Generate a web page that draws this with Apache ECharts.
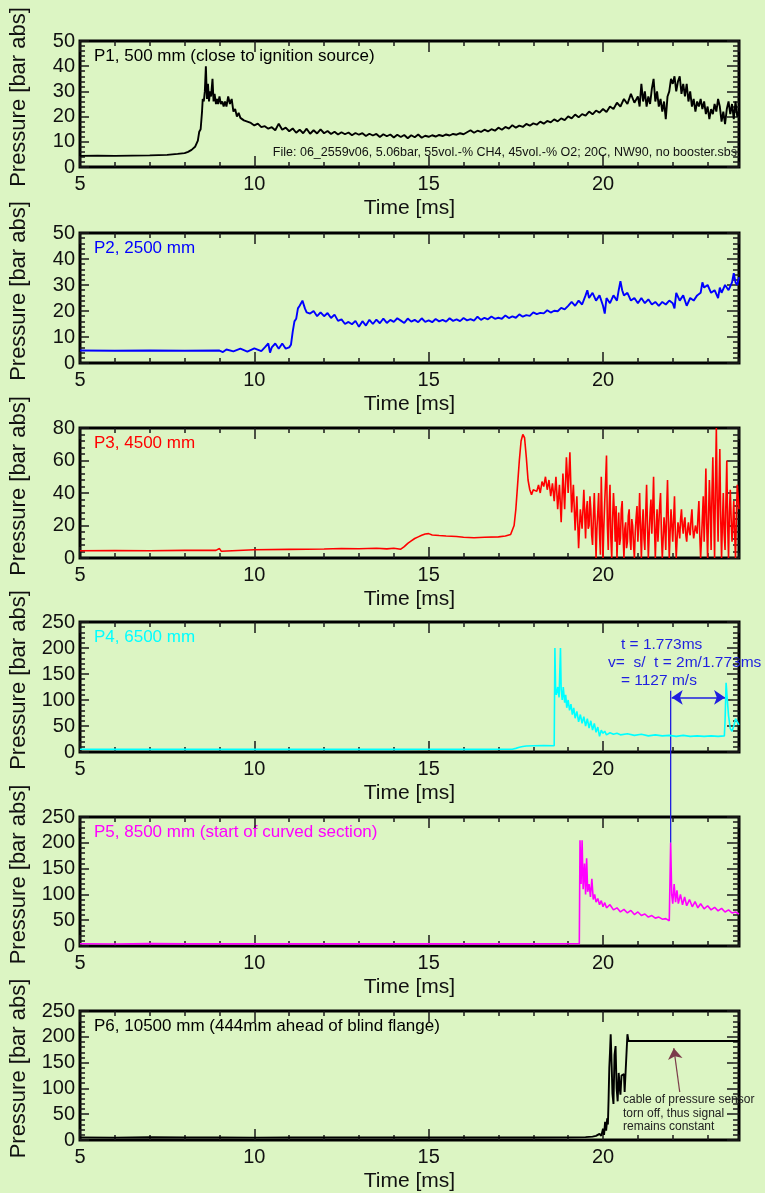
<!DOCTYPE html>
<html>
<head>
<meta charset="utf-8">
<script src="https://cdn.jsdelivr.net/npm/echarts@6/dist/echarts.min.js"></script>
<style>
html, body { margin: 0; padding: 0; background: #dcf5c3; }
#main { width: 765px; height: 1193px; }
</style>
</head>
<body>
<div id="main"></div>
<script>
// axis ranges and ticks
var timeMin = 5, timeMax = 23.9, timeStep = 5;
var yMax = [50, 50, 80, 250, 250, 250];
var yStep = [10, 10, 20, 50, 50, 50];

var panelNames = [
    'P1, 500 mm (close to ignition source)',
    'P2, 2500 mm',
    'P3, 4500 mm',
    'P4, 6500 mm',
    'P5, 8500 mm (start of curved section)',
    'P6, 10500 mm (444mm ahead of blind flange)'
];
var panelColors = ['#000000', '#0000ff', '#ff0000', '#00ffff', '#ff00ff', '#000000'];
var lineWidths = [1.9, 1.9, 1.6, 1.6, 1.6, 1.9];

// pressure traces [time ms, bar abs]
var p1 = [[5,4.4],[5.5,4.5],[6,4.4],[6.5,4.5],[7,4.6],[7.5,4.8],[7.8,5.2],[8,5.5],[8.1,6],[8.2,6.8],[8.3,8],[8.38,10.5],[8.42,14],[8.46,15],[8.5,22],[8.52,27],[8.55,26],[8.58,30],[8.61,40],[8.64,27],[8.67,33],[8.7,26],[8.73,30],[8.76,28],[8.8,35],[8.83,26],[8.86,29],[8.9,25],[8.93,27],[8.96,25],[9,28],[9.04,25],[9.08,26],[9.12,24],[9.16,26],[9.2,24],[9.25,28],[9.3,25],[9.35,27],[9.4,22],[9.45,23],[9.5,20],[9.55,21.5],[9.6,19.5],[9.65,20],[9.7,18.5],[9.8,18],[9.9,17.5],
    [10,16.5],[10.1,17.2],[10.2,15.8],[10.3,16.2],[10.4,15.2],[10.5,15.8],[10.6,14.6],[10.7,17.2],[10.8,14.8],[10.9,15.6],[11,14.2],[11.1,15.3],[11.2,13.6],[11.3,14.8],[11.4,13.4],[11.5,15.2],[11.6,13.2],[11.7,14.6],[11.8,13.3],[11.9,14.9],[12,13.4],[12.1,14.3],[12.2,13.1],[12.3,14],[12.4,12.9],[12.5,13.8],[12.6,13],[12.7,13.7],[12.8,12.6],[12.9,13.5],[13,12.8],[13.1,13.4],[13.2,12.3],[13.3,13.2],[13.4,12.5],[13.5,13.1],[13.6,11.9],[13.7,13],[13.8,12.2],[13.9,12.9],[14,11.7],[14.1,12.8],[14.2,11.9],[14.3,12.7],[14.4,11.4],[14.5,12.6],[14.6,11.8],[14.7,12.9],[14.8,11.6],[14.9,12.4],[15,12],[15.1,12.6],[15.2,12.1],[15.3,12.7],[15.4,12.3],[15.5,12.9],[15.6,12.5],[15.7,13.1],[15.8,12.8],[15.9,13.4],[16,13],[16.1,13.8],[16.2,14.6],[16.3,13.6],[16.4,14.4],[16.5,13.9],[16.6,14.8],[16.7,14.1],[16.8,15],[16.9,14.4],[17,15.6],[17.1,14.8],[17.2,15.9],[17.3,15.2],[17.4,16.6],[17.5,15.6],[17.6,16.4],[17.7,15.9],[17.8,17.1],[17.9,16.4],[18,17.3],[18.1,16.8],[18.2,18],[18.3,17.2],[18.4,18.3],[18.5,17.7],[18.6,18.9],[18.7,18.1],[18.8,19.3],[18.9,18.6],[19,20.1],[19.1,19.3],[19.2,20.8],[19.3,19.7],[19.4,21],[19.5,20.4],[19.6,22],[19.7,20.9],[19.8,22.4],[19.9,21.6],[20,23],
    [20.1,21.8],[20.2,24],[20.3,23],[20.4,25.5],[20.5,24],[20.6,27],[20.7,25],[20.8,29],[20.9,25.5],[21,28],[21.05,24],[21.1,33],[21.15,26],[21.2,30],[21.25,24],[21.3,28],[21.35,25],[21.4,31],[21.45,35],[21.5,26],[21.55,30],[21.6,24],[21.65,27],[21.7,22],[21.75,26],[21.8,19],[21.85,28],[21.9,30],[21.95,35],[22,33],[22.05,36],[22.1,30],[22.15,34],[22.2,36],[22.25,29],[22.3,33],[22.35,28],[22.4,33],[22.45,26],[22.5,30],[22.55,24],[22.6,27],[22.65,22],[22.7,26],[22.75,24],[22.8,27],[22.85,23],[22.9,26],[22.95,21],[23,24],[23.05,19],[23.1,23],[23.15,21],[23.2,25],[23.25,22],[23.3,27],[23.35,24],[23.4,18],[23.45,22],[23.5,17],[23.55,23],[23.6,26],[23.65,21],[23.7,25],[23.75,19],[23.8,26],[23.85,20],[23.9,22]];

var p2 = [[5,4.8],[6,4.7],[7,4.8],[8,4.7],[9,4.8],[9.1,4.2],[9.2,5.2],[9.4,4.5],[9.6,5.5],[9.8,4.4],[10,5.6],[10.2,4.6],[10.3,6],[10.4,7.5],[10.45,4],[10.5,6],[10.6,7.5],[10.7,5.5],[10.8,7.5],[10.9,5.5],[11,6],[11.05,7],[11.1,12],[11.15,16],[11.2,17],[11.25,21],[11.3,22],[11.38,24],[11.45,21],[11.5,19.5],[11.6,19],[11.7,20],[11.8,18],[11.9,19.5],
    [12,18],[12.1,19.2],[12.2,17.3],[12.3,18.6],[12.4,16.2],[12.5,16.8],[12.6,15],[12.7,15.8],[12.8,14.9],[12.9,16.2],[13,13.9],[13.1,16.1],[13.2,14.4],[13.3,16.6],[13.4,15],[13.5,16.7],[13.6,15.3],[13.7,17.1],[13.8,15.4],[13.9,16.6],[14,15.8],[14.1,17.2],[14.2,16.3],[14.3,15.4],[14.4,17.1],[14.5,15.9],[14.6,16.6],[14.7,15.7],[14.8,17.2],[14.9,15.8],[15,16.4],[15.1,15.7],[15.2,16.9],[15.3,16],[15.4,16.6],[15.5,15.9],[15.6,17.2],[15.7,16.2],[15.8,16.8],[15.9,16.1],[16,17.3],[16.1,16.4],[16.2,16.9],[16.3,16.3],[16.4,17.8],[16.5,16.6],[16.6,17.4],[16.7,16.8],[16.8,17.9],[16.9,17],[17,17.4],[17.1,17],[17.2,18.3],[17.3,17.3],[17.4,17.9],[17.5,17.4],[17.6,18.7],[17.7,17.8],[17.8,18.4],[17.9,18.1],[18,19.5],[18.1,18.8],[18.2,19.3],[18.3,19.1],[18.4,20.3],[18.5,19.4],[18.6,20.1],[18.7,19.9],[18.8,21.2],[18.9,20.6],
    [19,22],[19.1,23.5],[19.2,22],[19.3,24],[19.4,22.5],[19.5,26],[19.55,28],[19.6,25],[19.7,27],[19.8,24],[19.9,26],[20,22],[20.05,19],[20.1,25],[20.2,23],[20.3,26],[20.4,24],[20.45,28],[20.5,31.5],[20.55,28],[20.6,26],[20.7,27],[20.8,24],[20.9,25],[21,23],[21.1,25],[21.2,23],[21.3,24.5],[21.4,22.5],[21.5,23.5],[21.6,22],[21.7,23.5],[21.8,22.5],[21.9,24],[22,23],[22.05,21],[22.1,27],[22.2,24],[22.3,26],[22.4,22],[22.5,25],[22.6,24],[22.7,26],[22.8,27],[22.85,31],[22.9,29],[23,30],[23.1,27],[23.2,28],[23.3,25],[23.35,29],[23.4,27],[23.5,30],[23.6,28],[23.7,31],[23.75,34.5],[23.8,31],[23.85,30],[23.9,33]];

var p3 = [[5,4.5],[6,4.6],[7,4.5],[8,4.7],[8.9,4.7],[9,5.8],[9.05,4.2],[9.1,5],[10,5.1],[11,5.3],[12,5.5],[12.5,5.8],[13,5.7],[13.5,6],[13.8,5.6],[14,6],[14.2,5.4],[14.3,7],[14.4,9],[14.5,10.5],[14.6,12],[14.7,13],[14.8,14],[14.9,14.8],[15,15],[15.1,14.2],[15.3,13.8],[15.5,13.5],[15.8,13.2],[16,12.8],[16.3,12.5],[16.6,12.8],[17,13],[17.2,13.5],[17.35,14.5],[17.45,20],[17.5,30],[17.55,45],[17.6,60],[17.65,72],[17.7,76],[17.75,74],[17.8,62],[17.85,48],[17.9,42],[17.95,39],[18,42],[18.05,43],[18.1,41],[18.15,45],[18.2,40],[18.25,47],[18.3,44],[18.35,50],[18.4,42],[18.45,48],[18.5,38],[18.55,46],[18.6,35],[18.65,50],[18.7,30],[18.75,45],[18.8,22],[18.85,52],[18.9,30],[18.95,62],[19,40],[19.05,65],[19.1,28],[19.15,45],[19.2,17],[19.25,38],[19.3,6],[19.35,30],[19.4,18],[19.45,42],
    [19.5,12],[19.525,30],[19.55,35],[19.575,18],[19.6,20],[19.625,38],[19.65,30],[19.675,14],[19.7,8],[19.725,26],[19.75,40],[19.775,22],[19.8,0],[19.825,18],[19.85,28],[19.875,40],[19.9,15],[19.925,2],[19.95,50],[19.975,25],[20,0],[20.025,20],[20.05,35],[20.075,48],[20.1,63],[20.125,20],[20.15,5],[20.175,30],[20.2,45],[20.225,12],[20.25,0],[20.275,24],[20.3,40],[20.325,28],[20.35,10],[20.375,32],[20.4,0],[20.425,15],[20.45,28],[20.475,8],[20.5,12],[20.525,30],[20.55,35],[20.575,14],[20.6,0],[20.625,18],[20.65,22],[20.675,6],[20.7,10],[20.725,26],[20.75,30],[20.775,12],[20.8,5],[20.825,24],[20.85,20],[20.875,8],[20.9,0],[20.925,16],[20.95,25],[20.975,32],[21,10],[21.025,22],[21.05,40],[21.075,18],[21.1,0],[21.125,20],[21.15,30],[21.175,12],[21.2,5],[21.225,28],[21.25,45],[21.275,20],[21.3,0],[21.325,15],[21.35,28],[21.375,36],[21.4,15],[21.425,30],[21.45,50],[21.475,20],[21.5,0],[21.525,18],[21.55,30],[21.575,10],[21.6,10],[21.625,32],[21.65,40],[21.675,15],[21.7,0],[21.725,12],[21.75,25],[21.775,18],[21.8,5],[21.825,30],[21.85,48],[21.875,22],[21.9,0],[21.925,16],[21.95,30],[21.975,20],[22,10],[22.025,24],[22.05,38],[22.075,15],[22.1,0],[22.125,12],[22.15,22],[22.175,18],[22.2,12],[22.225,24],[22.25,30],[22.275,20],[22.3,15],[22.325,22],[22.35,25],[22.375,14],[22.4,10],[22.425,18],[22.45,22],[22.475,16],[22.5,14],[22.525,24],[22.55,30],[22.575,18],[22.6,12],[22.625,16],[22.65,20],[22.675,17],[22.7,15],[22.725,26],[22.75,35],[22.775,14],[22.8,0],[22.825,12],[22.85,25],[22.875,38],[22.9,10],[22.925,30],[22.95,55],[22.975,20],[23,0],[23.025,25],[23.05,48],[23.075,30],[23.1,5],[23.125,40],[23.15,62],[23.175,28],[23.2,0],[23.225,45],[23.25,80],[23.275,35],[23.3,10],[23.325,40],[23.35,67],[23.375,25],[23.4,0],[23.425,22],[23.45,40],[23.475,15],[23.5,5],[23.525,35],[23.55,60],[23.575,20],[23.6,0],[23.625,28],[23.65,42],[23.675,24],[23.7,10],[23.725,20],[23.75,35],[23.775,15],[23.8,0],[23.825,25],[23.85,45],[23.875,38],[23.9,30]];

var p4 = [[5,5.2],[6,5],[7,5.3],[8,5.1],[9,5.2],[10,5],[11,5.2],[12,5.1],[13,5.3],[14,5.1],[15,5.2],[16,5.1],[17,5.2],[17.4,5.3],[17.5,7],[17.6,9],[17.7,10.5],[17.8,11.5],[18,12],[18.3,12.2],[18.6,12],[18.62,200],[18.64,120],[18.66,110],[18.7,125],[18.74,105],[18.78,200],[18.8,120],[18.83,100],[18.86,125],[18.9,95],[18.93,110],[18.96,85],[19,100],[19.04,80],[19.08,92],[19.12,72],[19.16,85],[19.2,65],[19.25,78],[19.3,58],[19.35,72],[19.4,55],[19.45,68],[19.5,50],[19.55,64],[19.6,46],[19.65,60],[19.7,42],[19.75,55],[19.8,38],[19.85,48],[19.9,30],[19.95,42],[20,36],[20.05,40],[20.1,33],[20.2,37],[20.3,34],[20.4,36],[20.5,33],[20.7,35],[20.9,32],[21.1,34],[21.3,31],[21.5,33],[21.7,31],[21.9,32],[22.1,30],[22.3,32],[22.5,30],[22.7,31],[22.9,30],[23.1,31],[23.3,30],[23.48,31],[23.5,60],[23.53,133],[23.56,105],[23.6,70],[23.65,45],[23.7,40],[23.75,50],[23.8,64],[23.85,58],[23.9,52]];

var p5 = [[5,4.5],[6,4],[7,4.6],[8,4.2],[9,4.5],[10,4.2],[11,4.4],[12,4.2],[13,4.5],[14,4.2],[15,4.4],[16,4.2],[17,4.4],[18,4.2],[19,4.4],[19.32,4.3],[19.34,205],[19.37,120],[19.4,205],[19.43,110],[19.47,160],[19.5,100],[19.53,170],[19.56,105],[19.6,120],[19.64,95],[19.68,130],[19.72,90],[19.76,100],[19.8,85],[19.85,92],[19.9,80],[19.95,88],[20,76],[20.05,84],[20.1,74],[20.2,80],[20.3,70],[20.4,74],[20.5,66],[20.6,71],[20.7,64],[20.8,69],[20.9,61],[21,66],[21.1,59],[21.2,62],[21.3,56],[21.4,59],[21.5,54],[21.6,56],[21.7,52],[21.8,53],[21.9,49],[21.92,52],[21.94,200],[21.97,100],[22,82],[22.04,120],[22.08,85],[22.12,108],[22.16,82],[22.22,100],[22.28,80],[22.34,95],[22.4,78],[22.48,90],[22.56,76],[22.64,86],[22.72,74],[22.8,82],[22.9,72],[23,78],[23.1,70],[23.2,75],[23.3,68],[23.4,73],[23.5,66],[23.6,70],[23.7,64],[23.8,66],[23.9,62]];

var p6 = [[5,5],[6,4.6],[7,5.2],[8,4.7],[9,5],[10,4.6],[11,5],[12,4.7],[13,5],[14,4.7],[15,5],[16,4.7],[17,5],[18,4.8],[19,5],[19.5,5.5],[19.7,6.5],[19.8,8],[19.85,5],[19.9,12],[19.95,8],[20,22],[20.03,10],[20.06,35],[20.09,18],[20.12,42],[20.14,30],[20.16,80],[20.18,140],[20.2,170],[20.22,205],[20.25,140],[20.27,90],[20.3,70],[20.33,165],[20.36,182],[20.39,100],[20.42,75],[20.45,130],[20.48,100],[20.5,88],[20.53,125],[20.56,128],[20.6,128],[20.62,93],[20.67,93],[20.7,205],[20.73,192],[23.9,192]];

var traces = [p1, p2, p3, p4, p5, p6];

// annotation anchors in data units
var speedArrow = [[21.97, 105], [23.5, 105]];   // P4
var linkTop = [21.94, 118];                      // P4
var linkBottom = [21.94, 200];                   // P5
var cableArrow = [[22.2, 93], [22.03, 178]];     // P6

// layout
var gridLeft = 78, gridWidth = 661;
var gridTop = [41, 233, 428, 622, 817, 1011];
var gridHeight = [126, 130, 130, 130, 129, 129];
var font = '"Liberation Sans", Arial, sans-serif';
var tickStyle = { color: '#1a1a1a', width: 1.5 };

var chart = echarts.init(document.getElementById('main'));

var grids = [], xAxes = [], yAxes = [], series = [], graphics = [];

for (var g = 0; g < 6; g++) {
    grids.push({
        left: gridLeft, top: gridTop[g], width: gridWidth, height: gridHeight[g],
        show: true, borderColor: '#000', borderWidth: 3, backgroundColor: 'transparent'
    });

    // x: labelled bottom axis + minor ticks, and the same on top
    var xBase = {
        gridIndex: g, type: 'value', min: timeMin, max: timeMax,
        axisLine: { show: false, onZero: false },
        splitLine: { show: false },
        axisLabel: { show: false }
    };
    xAxes.push(Object.assign({}, xBase, {
        position: 'bottom', interval: timeStep,
        axisTick: { inside: true, length: 11, lineStyle: tickStyle },
        axisLabel: { show: true, margin: 7, fontSize: 20, fontFamily: font, color: '#111', showMaxLabel: false },
        name: 'Time [ms]', nameLocation: 'middle', nameGap: 31,
        nameTextStyle: { fontSize: 21, fontFamily: font, color: '#111' }
    }));
    xAxes.push(Object.assign({}, xBase, {
        position: 'bottom', interval: 1,
        axisTick: { inside: true, length: 5, lineStyle: tickStyle }
    }));
    xAxes.push(Object.assign({}, xBase, {
        position: 'top', interval: timeStep,
        axisTick: { inside: true, length: 11, lineStyle: tickStyle }
    }));
    xAxes.push(Object.assign({}, xBase, {
        position: 'top', interval: 1,
        axisTick: { inside: true, length: 5, lineStyle: tickStyle }
    }));

    yAxes.push({
        gridIndex: g, type: 'value', position: 'left', min: 0, max: yMax[g], interval: yStep[g],
        axisLine: { show: false, onZero: false },
        axisTick: { inside: true, length: 9, lineStyle: tickStyle },
        minorTick: { show: true, splitNumber: 5, length: 5, lineStyle: tickStyle },
        splitLine: { show: false },
        axisLabel: { margin: 5, fontSize: 20, fontFamily: font, color: '#111' },
        name: 'Pressure [bar abs]', nameLocation: 'middle', nameGap: 50,
        nameTextStyle: { fontSize: 22, fontFamily: font, color: '#111', padding: [0, 0, 0, 14] }
    });
    yAxes.push({
        gridIndex: g, type: 'value', position: 'right', min: 0, max: yMax[g], interval: yStep[g],
        axisLine: { show: false, onZero: false },
        axisTick: { inside: true, length: 12, lineStyle: tickStyle },
        minorTick: { show: true, splitNumber: 5, length: 6, lineStyle: tickStyle },
        splitLine: { show: false },
        axisLabel: { show: false }
    });

    series.push({
        type: 'line', name: panelNames[g], xAxisIndex: g * 4, yAxisIndex: g * 2,
        data: traces[g], showSymbol: false, symbol: 'none', animation: false,
        lineStyle: { color: panelColors[g], width: lineWidths[g] }
    });

    graphics.push({
        type: 'text', id: 'name' + g, left: gridLeft + 16, top: gridTop[g] + 7,
        style: { text: panelNames[g], fill: panelColors[g], font: '17px ' + font }
    });
}

// P4: travel time arrow
series[3].markLine = {
    silent: true, symbol: ['arrow', 'arrow'], symbolSize: 11, animation: false,
    label: { show: false },
    lineStyle: { color: '#1f1fe0', width: 1.5, type: 'solid' },
    data: [[{ coord: speedArrow[0] }, { coord: speedArrow[1] }]]
};
// P6: note arrow
series[5].markLine = {
    silent: true, symbol: ['none', 'arrow'], symbolSize: 11, animation: false,
    label: { show: false },
    lineStyle: { color: '#7b3b4a', width: 1.2, type: 'solid' },
    data: [[{ coord: cableArrow[0] }, { coord: cableArrow[1] }]]
};

graphics.push({
    type: 'text', id: 'file', right: 765 - 737, top: gridTop[0] + 105,
    style: { text: 'File: 06_2559v06, 5.06bar, 55vol.-% CH4, 45vol.-% O2; 20C, NW90, no booster.sbs', fill: '#111', font: '12.5px ' + font }
});
graphics.push({
    type: 'text', id: 'speed', left: 608, top: gridTop[3] + 14,
    style: {
        text: '   t = 1.773ms\nv=  s/  t = 2m/1.773ms\n   = 1127 m/s',
        fill: '#1f1fe0', font: '15.5px ' + font, lineHeight: 18
    }
});
graphics.push({
    type: 'text', id: 'cable', left: 623, top: gridTop[5] + 82,
    style: {
        text: 'cable of pressure sensor\ntorn off, thus signal\nremains constant',
        fill: '#222', font: '12px ' + font, lineHeight: 13.5
    }
});

chart.setOption({
    backgroundColor: '#dcf5c3',
    animation: false,
    grid: grids,
    xAxis: xAxes,
    yAxis: yAxes,
    series: series,
    graphic: graphics
});

// blue line linking the P5 reflection peak with the P4 arrow
var a = chart.convertToPixel({ xAxisIndex: 12, yAxisIndex: 6 }, linkTop);
var b = chart.convertToPixel({ xAxisIndex: 16, yAxisIndex: 8 }, linkBottom);
chart.setOption({
    graphic: graphics.concat([{
        type: 'line', id: 'link', silent: true,
        shape: { x1: a[0], y1: a[1], x2: b[0], y2: b[1] },
        style: { stroke: '#1f1fe0', lineWidth: 1.3 }
    }])
});

window.addEventListener('resize', function () {
    chart.resize();
});
</script>
</body>
</html>
